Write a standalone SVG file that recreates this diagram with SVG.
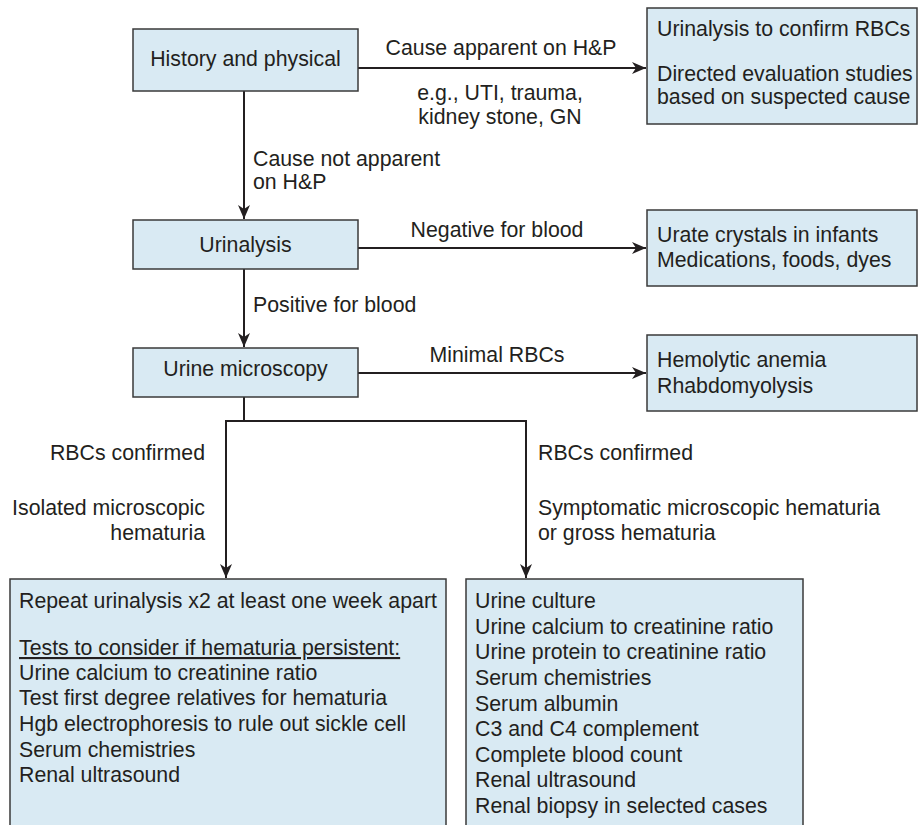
<svg xmlns="http://www.w3.org/2000/svg" width="920" height="825" viewBox="0 0 920 825">
<defs>
<style>
.box{fill:#d9eaf3;stroke:#3a3a3a;stroke-width:1.5}
.t{font-family:"Liberation Sans",Arial,sans-serif;font-size:21.3px;fill:#231f20}
.c{text-anchor:middle}
.e{text-anchor:end}
.ln{fill:none;stroke:#231f20;stroke-width:2}
</style>
<marker id="ah" viewBox="0 0 14 12" refX="14" refY="6" markerWidth="14" markerHeight="12" markerUnits="userSpaceOnUse" orient="auto">
<path d="M0,0 L14,6 L0,12 L4,6 Z" fill="#231f20"/>
</marker>
</defs>
<rect width="920" height="825" fill="#ffffff"/>
<g id="connectors">
<line class="ln" x1="358" y1="68" x2="646" y2="68" marker-end="url(#ah)"/>
<line class="ln" x1="244" y1="91" x2="244" y2="219" marker-end="url(#ah)"/>
<line class="ln" x1="358" y1="248" x2="646" y2="248" marker-end="url(#ah)"/>
<line class="ln" x1="244" y1="269" x2="244" y2="347" marker-end="url(#ah)"/>
<line class="ln" x1="358" y1="373" x2="646" y2="373" marker-end="url(#ah)"/>
<polyline class="ln" points="244,397 244,421"/>
<polyline class="ln" points="226,421 526,421 526,578" marker-end="url(#ah)"/>
<polyline class="ln" points="226,420 226,578" marker-end="url(#ah)"/>
<text class="t c" x="501" y="55">Cause apparent on H&amp;P</text>
<text class="t c" x="500" y="100">e.g., UTI, trauma,</text>
<text class="t c" x="500" y="124">kidney stone, GN</text>
<text class="t" x="253" y="166">Cause not apparent</text>
<text class="t" x="253" y="189">on H&amp;P</text>
<text class="t c" x="497" y="237">Negative for blood</text>
<text class="t" x="253" y="312">Positive for blood</text>
<text class="t c" x="497" y="362">Minimal RBCs</text>
<text class="t e" x="205" y="460">RBCs confirmed</text>
<text class="t e" x="205" y="515">Isolated microscopic</text>
<text class="t e" x="205" y="540">hematuria</text>
<text class="t" x="538" y="460">RBCs confirmed</text>
<text class="t" x="538" y="515">Symptomatic microscopic hematuria</text>
<text class="t" x="538" y="540">or gross hematuria</text>
</g>
<g id="history">
<rect class="box" x="133" y="29" width="225" height="62"/>
<text class="t c" x="245.5" y="66">History and physical</text>
</g>
<g id="hp-result">
<rect class="box" x="647" y="8" width="270" height="116"/>
<text class="t" x="657" y="36">Urinalysis to confirm RBCs</text>
<text class="t" x="657" y="81">Directed evaluation studies</text>
<text class="t" x="657" y="104">based on suspected cause</text>
</g>
<g id="urinalysis">
<rect class="box" x="133" y="220" width="225" height="49"/>
<text class="t c" x="245.5" y="252">Urinalysis</text>
</g>
<g id="negative">
<rect class="box" x="647" y="210" width="270" height="76"/>
<text class="t" x="657" y="242">Urate crystals in infants</text>
<text class="t" x="657" y="267">Medications, foods, dyes</text>
</g>
<g id="microscopy">
<rect class="box" x="133" y="348" width="225" height="49"/>
<text class="t c" x="245.5" y="376">Urine microscopy</text>
</g>
<g id="minimal">
<rect class="box" x="647" y="335" width="270" height="76"/>
<text class="t" x="657" y="367">Hemolytic anemia</text>
<text class="t" x="657" y="393">Rhabdomyolysis</text>
</g>
<g id="isolated">
<rect class="box" x="10" y="579" width="436" height="260"/>
<text class="t" x="19" y="608">Repeat urinalysis x2 at least one week apart</text>
<text class="t" x="19" y="655" text-decoration="underline">Tests to consider if hematuria persistent:</text>
<text class="t" x="19" y="680">Urine calcium to creatinine ratio</text>
<text class="t" x="19" y="705">Test first degree relatives for hematuria</text>
<text class="t" x="19" y="731">Hgb electrophoresis to rule out sickle cell</text>
<text class="t" x="19" y="757">Serum chemistries</text>
<text class="t" x="19" y="782">Renal ultrasound</text>
</g>
<g id="symptomatic">
<rect class="box" x="466" y="579" width="337" height="260"/>
<text class="t" x="475" y="608">Urine culture</text>
<text class="t" x="475" y="634">Urine calcium to creatinine ratio</text>
<text class="t" x="475" y="659">Urine protein to creatinine ratio</text>
<text class="t" x="475" y="685">Serum chemistries</text>
<text class="t" x="475" y="711">Serum albumin</text>
<text class="t" x="475" y="736">C3 and C4 complement</text>
<text class="t" x="475" y="762">Complete blood count</text>
<text class="t" x="475" y="787">Renal ultrasound</text>
<text class="t" x="475" y="813">Renal biopsy in selected cases</text>
</g>
</svg>
